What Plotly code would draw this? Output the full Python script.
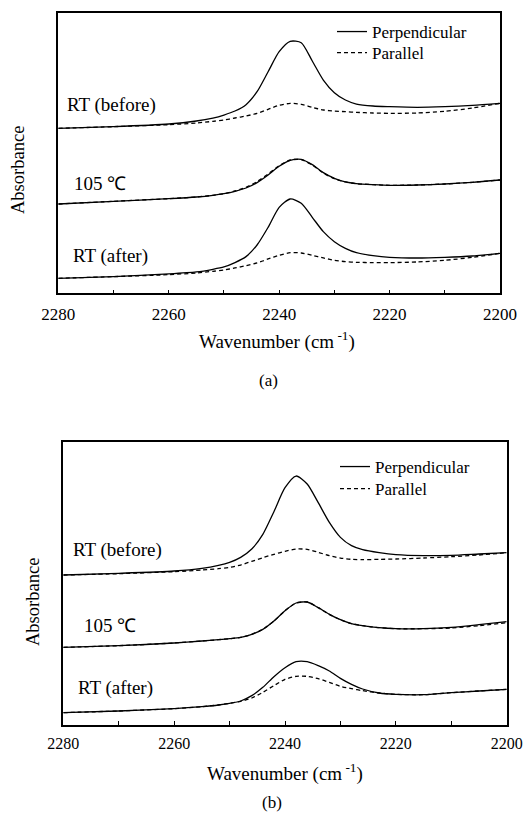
import plotly.graph_objects as go

# ---------------- data (absorbance, arbitrary units, spectra offset) ----------------
wavenumber = [2280, 2270, 2260, 2255, 2252, 2250, 2248, 2246, 2244, 2242, 2240, 2238,
              2236, 2234, 2232, 2230, 2228, 2226, 2223, 2220, 2215, 2210, 2205, 2200]

# panel (a)
a_before_perp = [0.495, 0.500, 0.508, 0.517, 0.526, 0.535, 0.547, 0.566, 0.605, 0.665, 0.725, 0.756,
                 0.752, 0.697, 0.640, 0.602, 0.580, 0.568, 0.562, 0.560, 0.558, 0.560, 0.564, 0.570]
a_before_para = [0.495, 0.500, 0.506, 0.511, 0.516, 0.520, 0.526, 0.532, 0.540, 0.552, 0.564, 0.570,
                 0.567, 0.558, 0.550, 0.547, 0.545, 0.543, 0.541, 0.540, 0.541, 0.546, 0.556, 0.570]
a_105_perp = [0.268, 0.276, 0.284, 0.289, 0.294, 0.299, 0.306, 0.316, 0.332, 0.355, 0.381, 0.399,
              0.402, 0.386, 0.362, 0.345, 0.334, 0.329, 0.326, 0.324, 0.325, 0.328, 0.333, 0.340]
a_105_para = [0.268, 0.276, 0.284, 0.289, 0.294, 0.299, 0.307, 0.318, 0.335, 0.358, 0.383, 0.400,
              0.401, 0.385, 0.361, 0.344, 0.334, 0.329, 0.326, 0.324, 0.325, 0.328, 0.333, 0.340]
a_after_perp = [0.045, 0.050, 0.058, 0.064, 0.072, 0.079, 0.092, 0.110, 0.145, 0.198, 0.258, 0.283,
                0.270, 0.228, 0.185, 0.155, 0.135, 0.122, 0.113, 0.108, 0.106, 0.108, 0.112, 0.120]
a_after_para = [0.045, 0.050, 0.056, 0.061, 0.066, 0.070, 0.076, 0.083, 0.091, 0.103, 0.114, 0.122,
                0.121, 0.114, 0.106, 0.099, 0.095, 0.093, 0.092, 0.092, 0.094, 0.099, 0.108, 0.120]

# panel (b)
b_before_perp = [0.450, 0.455, 0.462, 0.470, 0.479, 0.488, 0.503, 0.528, 0.572, 0.640, 0.712, 0.747,
                 0.723, 0.667, 0.608, 0.563, 0.538, 0.526, 0.517, 0.511, 0.508, 0.509, 0.513, 0.517]
b_before_para = [0.450, 0.454, 0.460, 0.465, 0.469, 0.473, 0.480, 0.491, 0.502, 0.512, 0.521, 0.528,
                 0.527, 0.518, 0.508, 0.501, 0.497, 0.496, 0.497, 0.498, 0.501, 0.505, 0.510, 0.517]
b_105_perp = [0.233, 0.238, 0.246, 0.252, 0.256, 0.259, 0.263, 0.272, 0.287, 0.312, 0.343, 0.366,
              0.369, 0.352, 0.332, 0.316, 0.304, 0.298, 0.292, 0.289, 0.289, 0.293, 0.301, 0.310]
b_105_para = [0.233, 0.238, 0.246, 0.252, 0.256, 0.259, 0.263, 0.272, 0.287, 0.312, 0.343, 0.366,
              0.369, 0.352, 0.332, 0.316, 0.304, 0.298, 0.292, 0.289, 0.289, 0.291, 0.298, 0.307]
b_after_perp = [0.037, 0.042, 0.049, 0.055, 0.060, 0.065, 0.072, 0.088, 0.113, 0.145, 0.172, 0.190,
                0.190, 0.178, 0.162, 0.140, 0.122, 0.108, 0.096, 0.092, 0.091, 0.097, 0.102, 0.107]
b_after_para = [0.037, 0.042, 0.049, 0.055, 0.060, 0.065, 0.071, 0.081, 0.098, 0.118, 0.137, 0.146,
                0.146, 0.139, 0.128, 0.116, 0.109, 0.103, 0.096, 0.092, 0.091, 0.097, 0.102, 0.107]

x_ticks = [2280, 2260, 2240, 2220, 2200]
series_names = ["Perpendicular", "Parallel"]
state_labels = ["RT (before)", "105 \u2103", "RT (after)"]
panel_labels = ["(a)", "(b)"]
x_title = "Wavenumber (cm<sup> -1</sup>)"
y_title = "Absorbance"

# ---------------- figure ----------------
FONT = "Liberation Serif"
W, H = 524, 813

def px(x):
    return x / W

def py(y):
    return 1 - y / H

fig = go.Figure()

panels = [
    dict(xa="x", ya="y", legends=("legend", "legend2"),
         perp=[a_before_perp, a_105_perp, a_after_perp],
         para=[a_before_para, a_105_para, a_after_para]),
    dict(xa="x2", ya="y2", legends=("legend3", "legend4"),
         perp=[b_before_perp, b_105_perp, b_after_perp],
         para=[b_before_para, b_105_para, b_after_para]),
]

for p in panels:
    for i in range(3):
        fig.add_trace(go.Scatter(
            x=wavenumber, y=p["perp"][i], mode="lines", name=series_names[0],
            line=dict(color="black", width=1.3, shape="spline", smoothing=0.7),
            xaxis=p["xa"], yaxis=p["ya"], legend=p["legends"][0], showlegend=(i == 0)))
        fig.add_trace(go.Scatter(
            x=wavenumber, y=p["para"][i], mode="lines", name=series_names[1],
            line=dict(color="black", width=1.3, dash="4px,3px", shape="spline", smoothing=0.7),
            xaxis=p["xa"], yaxis=p["ya"], legend=p["legends"][1], showlegend=(i == 0)))

def xaxis_cfg(domain, anchor, label_shift, label_size):
    return dict(range=[2280, 2200], tickvals=x_ticks, ticks="inside", ticklen=4,
                tickwidth=1, tickcolor="black", showline=True, linecolor="black",
                linewidth=1.5, mirror=True, showgrid=False, zeroline=False,
                ticklabelstandoff=label_shift,
                tickfont=dict(family=FONT, size=label_size, color="black"),
                minor=dict(dtick=10, tick0=2200, ticks="inside", ticklen=4, tickcolor="black"),
                domain=domain, anchor=anchor)

ycommon = dict(showline=True, linecolor="black", linewidth=1.5, mirror=True,
               showticklabels=False, ticks="", showgrid=False, zeroline=False)

def legend_cfg(left, center_y):
    return dict(x=px(left), y=py(center_y - 18), xanchor="left", yanchor="top",
                bgcolor="rgba(0,0,0,0)", font=dict(family=FONT, size=17, color="black"),
                tracegroupgap=0)

fig.update_layout(
    width=W, height=H, autosize=False,
    margin=dict(l=0, r=0, t=0, b=0, pad=0, autoexpand=False),
    paper_bgcolor="white", plot_bgcolor="white",
    font=dict(family=FONT, color="black"),
    xaxis=xaxis_cfg([px(58.3), px(500)], "y", 5, 17),
    yaxis=dict(**ycommon, domain=[py(293.3), py(12.7)], range=[0, 0.842], anchor="x"),
    xaxis2=xaxis_cfg([px(63.3), px(506.7)], "y2", 3, 16),
    yaxis2=dict(**ycommon, domain=[py(725), py(441.7)], range=[0, 0.85], anchor="x2"),
    legend=legend_cfg(332, 32),
    legend2=legend_cfg(332, 53),
    legend3=legend_cfg(335, 467),
    legend4=legend_cfg(335, 489),
)

annotations = []
# axis titles
for cx, cy in [(18, 170), (33, 602)]:
    annotations.append(dict(text=y_title, x=px(cx), y=py(cy), xref="paper", yref="paper",
                            xanchor="center", yanchor="middle", textangle=-90, showarrow=False,
                            font=dict(family=FONT, size=18.5, color="black")))
for cx, cy in [(277, 340), (285, 772)]:
    annotations.append(dict(text=x_title, x=px(cx), y=py(cy), xref="paper", yref="paper",
                            xanchor="center", yanchor="middle", showarrow=False,
                            font=dict(family=FONT, size=19, color="black")))
# state labels
label_pos = [[(65, 105), (72, 183), (71, 256)], [(71, 550), (82, 625), (76, 688)]]
for pi in range(2):
    for si in range(3):
        lx, ly = label_pos[pi][si]
        annotations.append(dict(text=state_labels[si], x=px(lx), y=py(ly), xref="paper",
                                yref="paper", xanchor="left", yanchor="middle", showarrow=False,
                                font=dict(family=FONT, size=19, color="black")))
# panel labels
for (cx, cy), t in zip([(268, 380), (272, 802)], panel_labels):
    annotations.append(dict(text=t, x=px(cx), y=py(cy), xref="paper", yref="paper",
                            xanchor="center", yanchor="middle",
                            showarrow=False, font=dict(family=FONT, size=17, color="black")))
fig.update_layout(annotations=annotations)

fig.write_html("out.html", config={"displayModeBar": False},
               post_script="document.body.style.margin='0';")
